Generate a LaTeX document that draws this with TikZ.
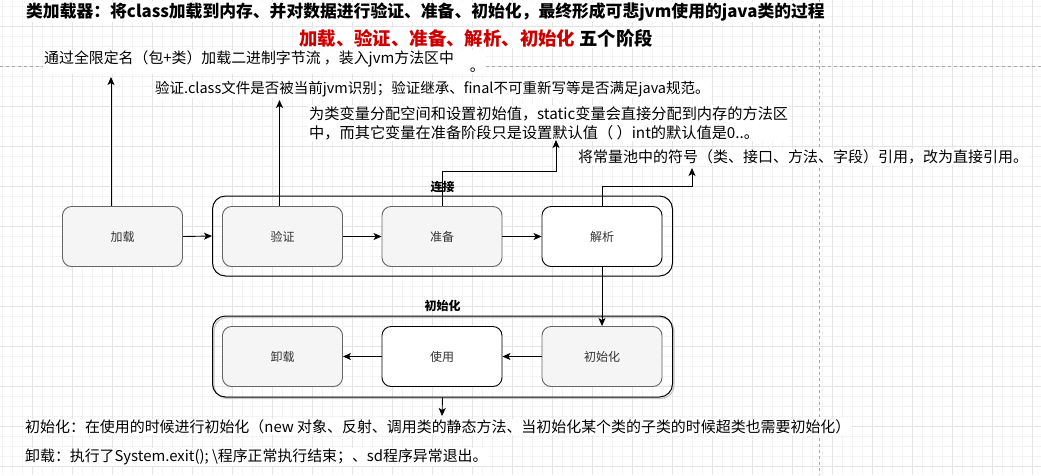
\documentclass[tikz,border=0pt]{standalone}
\usepackage{fontspec}
\setmainfont{Noto Sans CJK SC}
\usetikzlibrary{arrows.meta}
\definecolor{boxgray}{HTML}{F5F5F5}
\definecolor{boxline}{HTML}{666666}
\definecolor{gridmajor}{HTML}{E4E4E4}
\definecolor{gridminor}{HTML}{F3F3F3}
\definecolor{pageline}{HTML}{AAAAAA}
\definecolor{titlered}{HTML}{CC0000}
\definecolor{boxtext}{HTML}{333333}
\definecolor{shadowgray}{HTML}{C8C8C8}
\tikzset{
  gridminorline/.style={draw=gridminor, line width=0.6pt},
  gridmajorline/.style={draw=gridmajor, line width=0.8pt},
  pagebreak/.style={draw=pageline, dashed, line width=0.7pt},
  stagebox/.style={rectangle, rounded corners=9pt, minimum width=120pt, minimum height=60pt, line width=0.9pt, text=boxtext, font=\fontsize{12}{14}\selectfont},
  graystage/.style={stagebox, draw=boxline, fill=boxgray},
  whitestage/.style={stagebox, draw=black, fill=white},
  groupbox/.style={rectangle, draw=black, rounded corners=13pt, minimum width=460pt, line width=1pt},
  groupshadow/.style={rectangle, draw=shadowgray, rounded corners=13pt, minimum width=460pt, line width=1.2pt},
  grouplabel/.style={font=\fontsize{12}{14}\selectfont\bfseries},
  note/.style={fill=white, inner sep=1pt, anchor=west, align=left},
  arr/.style={-{Stealth[length=8pt,width=7pt,inset=2pt]}, line width=0.9pt},
}
\begin{document}
\begin{tikzpicture}[x=1pt,y=-1pt]
\useasboundingbox (0,0) rectangle (1041,475);
\fill[white] (0,0) rectangle (1041,475);
% grid
\foreach \x in {2,12,...,1040} \draw[gridminorline] (\x,0) -- (\x,475);
\foreach \y in {6,16,...,474} \draw[gridminorline] (0,\y) -- (1041,\y);
\foreach \x in {32,72,...,1040} \draw[gridmajorline] (\x,0) -- (\x,475);
\foreach \y in {26,66,...,474} \draw[gridmajorline] (0,\y) -- (1041,\y);
\draw[pagebreak] (0,66.5) -- (1041,66.5);
\draw[pagebreak] (819,0) -- (819,475);

% titles
\node[fill=white, inner sep=1pt, anchor=west, font=\fontsize{16.8}{19}\selectfont\bfseries] (title) at (25,12)
  {类加载器：将class加载到内存、并对数据进行验证、准备、初始化，最终形成可悲jvm使用的java类的过程};
\node[fill=white, inner sep=1pt, anchor=west, font=\fontsize{18.4}{21}\selectfont\bfseries] (subtitle) at (298,38)
  {\textcolor{titlered}{加载、验证、准备、解析、初始化}\ 五个阶段};

% annotations
\node[note, font=\fontsize{14.9}{19}\selectfont] (n1) at (43,62) {通过全限定名（包+类）加载二进制字节流 ，装入jvm方法区中\hspace{16pt}\raisebox{-8pt}{。}};
\node[note, font=\fontsize{14.5}{19}\selectfont] (n2) at (154,89) {验证.class文件是否被当前jvm识别；验证继承、final不可重新写等是否满足java规范。};
\node[note, font=\fontsize{15.2}{19}\selectfont] (n3) at (308,123) {为类变量分配空间和设置初始值，static变量会直接分配到内存的方法区\\中，而其它变量在准备阶段只是设置默认值（ ）int的默认值是0..。};
\node[note, font=\fontsize{15}{19}\selectfont] (n4) at (577,157) {将常量池中的符号（类、接口、方法、字段）引用，改为直接引用。};
\node[note, font=\fontsize{14.95}{19}\selectfont] (n5) at (24,427) {初始化：在使用的时候进行初始化（new 对象、反射、调用类的静态方法、当初始化某个类的子类的时候超类也需要初始化）};
\node[note, font=\fontsize{14.9}{19}\selectfont] (n6) at (24,457) {卸载：执行了System.exit(); \textbackslash 程序正常执行结束；、sd程序异常退出。};

% groups
\node[groupbox, minimum height=80pt] (linkg) at (442.5,236) {};
\node[grouplabel] (linkl) at (442.5,187) {连接};
\node[groupshadow, minimum height=81pt] (initsh) at (444,358) {};
\node[groupbox, minimum height=81pt, fill=white, fill opacity=0] (initg) at (442.5,356.5) {};
\node[grouplabel] (initl) at (442.5,306) {初始化};

% stages
\node[graystage] (load) at (122.5,236.5) {加载};
\node[graystage] (verify) at (282.5,236.5) {验证};
\node[graystage] (prepare) at (442,236.5) {准备};
\node[whitestage] (resolve) at (602,236.5) {解析};
\node[graystage] (unload) at (282.5,356.5) {卸载};
\node[whitestage] (use) at (442,356.5) {使用};
\node[graystage] (init) at (602,356.5) {初始化};

% connector ends
\coordinate (t1) at (111,77);
\coordinate (t2) at (279.5,100);
\coordinate (c3) at (556,171);
\coordinate (t3) at (556,140);
\coordinate (c4) at (692,186);
\coordinate (t4) at (692,168);
\coordinate (t6) at (442,416);

% connectors
\draw[arr] (load.east) -- (linkg.west);
\draw[arr] (verify.east) -- (prepare.west);
\draw[arr] (prepare.east) -- (resolve.west);
\draw[arr] (resolve.south) -- (init.north);
\draw[arr] (init.west) -- (use.east);
\draw[arr] (use.west) -- (unload.east);
\draw[arr] (load.north -| t1) -- (t1);
\draw[arr] (verify.north -| t2) -- (t2);
\draw[arr] (prepare.north) |- (c3) -- (t3);
\draw[arr] (resolve.north) |- (c4) -- (t4);
\draw[arr] (initg.south) -- (t6);
\end{tikzpicture}
\end{document}
